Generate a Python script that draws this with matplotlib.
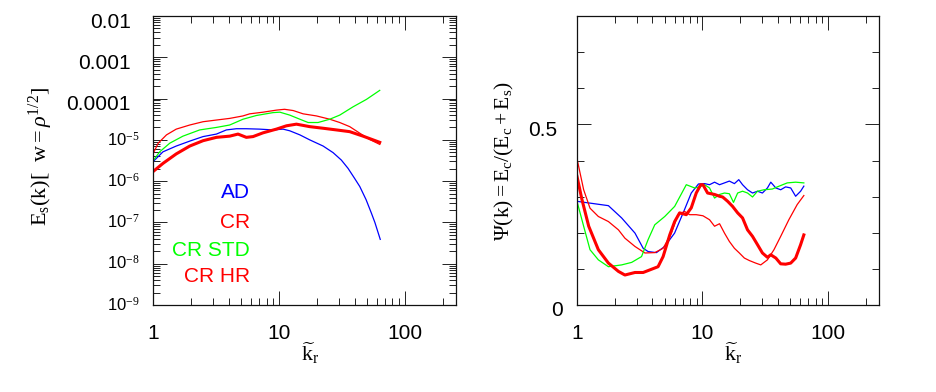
import numpy as np
import matplotlib
matplotlib.use("Agg")
import matplotlib.pyplot as plt
from matplotlib.ticker import LogLocator, FixedLocator, NullFormatter, FixedFormatter, MultipleLocator
from matplotlib.transforms import ScaledTranslation

plt.rcParams['font.family'] = ['Liberation Sans', 'DejaVu Sans']
plt.rcParams['mathtext.fontset'] = 'custom'
plt.rcParams['mathtext.rm'] = 'Liberation Serif'
plt.rcParams['mathtext.it'] = 'Liberation Serif:italic'
plt.rcParams['mathtext.bf'] = 'Liberation Serif:bold'
plt.rcParams['mathtext.sf'] = 'Liberation Sans'

# ---------------- data: left panel (E_s spectra) ----------------
k_ad = [1.0, 1.2, 1.53, 1.96, 2.5, 3.19, 3.83, 4.6, 5.5, 7.0, 9.0, 10.8, 12.2, 14.7,
        17.6, 22.5, 27.0, 31.4, 35.5, 40.0, 44.0, 49.4, 54.5, 58.0, 64.0]
es_ad = [2.95e-6, 5.13e-6, 7.08e-6, 9.33e-6, 1.20e-5, 1.38e-5, 1.74e-5, 1.86e-5, 1.86e-5,
         1.82e-5, 1.74e-5, 1.82e-5, 1.66e-5, 1.32e-5, 1.0e-5, 7.08e-6, 4.90e-6, 3.24e-6,
         2.04e-6, 1.17e-6, 7.41e-7, 3.55e-7, 1.66e-7, 1.0e-7, 3.89e-8]

k_cr = [1.0, 1.10, 1.28, 1.53, 1.96, 2.5, 3.19, 4.07, 5.19, 5.87, 7.49, 9.57, 11.1, 13.0,
        15.6, 19.9, 25.4, 30.5, 36.6, 44.0, 52.8, 63.4]
es_cr = [4.57e-6, 8.32e-6, 1.32e-5, 1.82e-5, 2.29e-5, 2.75e-5, 3.02e-5, 3.31e-5, 3.80e-5,
         4.27e-5, 4.68e-5, 5.25e-5, 5.50e-5, 5.13e-5, 4.27e-5, 3.80e-5, 3.16e-5, 2.63e-5,
         2.09e-5, 1.45e-5, 1.02e-5, 7.76e-6]

k_std = [1.0, 1.13, 1.36, 1.73, 2.35, 3.19, 4.07, 5.19, 6.63, 9.0, 10.2, 12.2, 14.7, 17.1,
         20.5, 25.4, 30.5, 38.9, 49.7, 63.4]
es_std = [3.09e-6, 5.13e-6, 8.32e-6, 1.23e-5, 1.74e-5, 2.0e-5, 2.29e-5, 3.16e-5, 3.89e-5,
          4.57e-5, 4.68e-5, 3.98e-5, 3.16e-5, 2.63e-5, 2.63e-5, 3.16e-5, 3.98e-5, 6.31e-5,
          9.55e-5, 1.58e-4]

k_hr = [1.0, 1.2, 1.53, 1.96, 2.5, 3.19, 4.07, 4.74, 5.52, 6.24, 7.49, 9.57, 11.5, 13.8,
        17.6, 22.5, 28.7, 36.6, 46.7, 63.4]
es_hr = [1.70e-6, 2.69e-6, 4.57e-6, 7.08e-6, 9.55e-6, 1.15e-5, 1.23e-5, 1.38e-5, 1.15e-5,
         1.20e-5, 1.48e-5, 1.82e-5, 2.19e-5, 2.40e-5, 2.09e-5, 1.91e-5, 1.74e-5, 1.58e-5,
         1.23e-5, 8.71e-6]

# ---------------- data: right panel (Psi) ----------------
kp_ad = [1.0, 1.78, 2.27, 2.9, 3.37, 3.69, 4.3, 5.0, 6.0, 7.2, 8.15, 9.3, 10.4, 11.4, 12.5,
         13.7, 15.0, 16.4, 18.0, 19.5, 20.9, 22.9, 25.1, 27.5, 30.1, 33.0, 35.1, 38.5, 42.1,
         46.1, 50.6, 55.4, 60.7, 64.4]
psi_ad = [0.287, 0.275, 0.241, 0.199, 0.157, 0.148, 0.145, 0.162, 0.199, 0.264, 0.310, 0.335,
          0.336, 0.333, 0.340, 0.333, 0.338, 0.343, 0.336, 0.347, 0.333, 0.319, 0.310, 0.315,
          0.310, 0.324, 0.340, 0.324, 0.319, 0.327, 0.324, 0.301, 0.315, 0.329]

kp_cr = [1.0, 1.13, 1.27, 1.48, 1.78, 2.14, 2.41, 2.9, 3.48, 4.17, 4.86, 5.66, 6.37, 7.21,
         7.91, 8.93, 10.1, 11.4, 12.5, 13.7, 15.0, 16.4, 18.0, 19.7, 21.6, 23.7, 26.6, 29.2,
         33.0, 37.2, 42.1, 48.9, 57.0, 64.4]
psi_cr = [0.405, 0.319, 0.268, 0.245, 0.231, 0.208, 0.185, 0.162, 0.144, 0.145, 0.157, 0.199,
          0.250, 0.259, 0.250, 0.250, 0.247, 0.236, 0.218, 0.225, 0.199, 0.176, 0.157, 0.144,
          0.130, 0.123, 0.116, 0.111, 0.125, 0.153, 0.190, 0.236, 0.278, 0.303]

kp_std = [1.0, 1.13, 1.27, 1.48, 1.78, 2.27, 2.73, 3.27, 3.69, 4.17, 5.01, 6.01, 7.44, 8.67,
          9.5, 10.4, 11.4, 12.5, 13.7, 15.0, 16.4, 17.7, 19.1, 20.9, 22.9, 25.1, 27.5, 31.0,
          36.1, 40.9, 47.5, 55.4, 64.4]
psi_std = [0.287, 0.218, 0.153, 0.125, 0.106, 0.111, 0.118, 0.134, 0.181, 0.222, 0.245, 0.273,
           0.333, 0.324, 0.327, 0.333, 0.324, 0.296, 0.306, 0.310, 0.308, 0.284, 0.310, 0.315,
           0.310, 0.299, 0.315, 0.319, 0.321, 0.329, 0.338, 0.340, 0.338]

kp_hr = [1.0, 1.095, 1.24, 1.48, 1.78, 2.14, 2.41, 2.9, 3.37, 3.93, 4.43, 4.86, 5.49, 6.01,
         6.58, 7.44, 8.15, 8.93, 9.7, 10.1, 11.0, 12.5, 13.7, 14.5, 15.9, 17.4, 19.1, 20.9,
         22.9, 25.1, 27.5, 30.1, 33.0, 35.1, 38.5, 42.1, 46.1, 50.6, 55.4, 60.7, 64.4]
psi_hr = [0.356, 0.292, 0.218, 0.153, 0.116, 0.093, 0.083, 0.090, 0.090, 0.099, 0.106, 0.134,
          0.194, 0.231, 0.255, 0.250, 0.269, 0.310, 0.333, 0.333, 0.310, 0.306, 0.301, 0.299,
          0.287, 0.273, 0.255, 0.241, 0.208, 0.190, 0.167, 0.144, 0.132, 0.139, 0.130, 0.114,
          0.113, 0.116, 0.130, 0.167, 0.194]

left_yticks = [1e-9, 1e-8, 1e-7, 1e-6, 1e-5, 1e-4, 1e-3, 1e-2]
left_ylabels = [r'10$^{-9}$', r'10$^{-8}$', r'10$^{-7}$', r'10$^{-6}$', r'10$^{-5}$',
                '0.0001', '0.001', '0.01']
xticks = [1, 10, 100]
xlabels = ['1', '10', '100']
right_yticks = [0.0, 0.5]
right_ylabels = ['0', '0.5']
legend_names = ['AD', 'CR', 'CR STD', 'CR HR']

BLUE, RED, GREEN = '#0000ff', '#ff0000', '#00ff00'
colors = [BLUE, RED, GREEN, RED]

fig = plt.figure(figsize=(9.37, 3.92), dpi=100)
W, H = 937, 392
axL = fig.add_axes([153 / W, (392 - 305) / H, 303 / W, 289 / H])
axR = fig.add_axes([577 / W, (392 - 305) / H, 302 / W, 289 / H])

thin, thick = 0.9, 2.2

# Left panel
axL.plot(k_ad, es_ad, color=BLUE, lw=thin)
axL.plot(k_cr, es_cr, color=RED, lw=thin)
axL.plot(k_std, es_std, color=GREEN, lw=thin)
axL.plot(k_hr, es_hr, color=RED, lw=thick)
axL.set_xscale('log')
axL.set_yscale('log')
axL.set_xlim(1, 256)
axL.set_ylim(1e-9, 1e-2)

# Right panel
axR.plot(kp_ad, psi_ad, color=BLUE, lw=thin)
axR.plot(kp_cr, psi_cr, color=RED, lw=thin)
axR.plot(kp_std, psi_std, color=GREEN, lw=thin)
axR.plot(kp_hr, psi_hr, color=RED, lw=thick)
axR.set_xscale('log')
axR.set_xlim(1, 256)
axR.set_ylim(0, 0.8)

for ax in (axL, axR):
    for s in ax.spines.values():
        s.set_linewidth(0.9)
        s.set_color('#111111')
    ax.tick_params(which='both', direction='in', top=True, right=True, width=0.7,
                   color='#222222')
    ax.tick_params(which='major', length=10)
    ax.tick_params(which='minor', length=5)
    ax.xaxis.set_major_locator(FixedLocator(xticks))
    ax.xaxis.set_major_formatter(FixedFormatter(xlabels))
    ax.xaxis.set_minor_locator(LogLocator(base=10, subs=np.arange(2, 10), numticks=100))
    ax.xaxis.set_minor_formatter(NullFormatter())
    ax.tick_params(axis='x', which='major', labelsize=15, pad=14)

axL.yaxis.set_major_locator(FixedLocator(left_yticks))
axL.yaxis.set_major_formatter(FixedFormatter(left_ylabels))
axL.yaxis.set_minor_locator(LogLocator(base=10, subs=np.arange(2, 10), numticks=100))
axL.yaxis.set_minor_formatter(NullFormatter())
axL.tick_params(axis='y', which='major', labelsize=15, pad=9.5)

axR.yaxis.set_major_locator(FixedLocator(right_yticks))
axR.yaxis.set_major_formatter(FixedFormatter(right_ylabels))
axR.yaxis.set_minor_locator(MultipleLocator(0.1))
axR.tick_params(axis='y', which='major', labelsize=15, pad=10)

# adjust tick label offsets
px = 1 / 100.0
for lbl in axL.get_yticklabels():
    t = lbl.get_text()
    if '$' in t:
        lbl.set_fontsize(12)
        lbl.set_transform(lbl.get_transform() + ScaledTranslation(0, 2 * px, fig.dpi_scale_trans))
    else:
        lbl.set_transform(lbl.get_transform() + ScaledTranslation(-9 * px, -4 * px, fig.dpi_scale_trans))
for lbl in axR.get_yticklabels():
    dx = -6 * px if lbl.get_text() == '0.5' else 0
    lbl.set_transform(lbl.get_transform() + ScaledTranslation(dx, -4 * px, fig.dpi_scale_trans))

# axis labels
axL.set_ylabel(r'$\mathrm{E_s(k)[\ \ w=}\rho^{1/2}\mathrm{]}$', fontsize=16, va='center')
axL.yaxis.set_label_coords((41 - 153) / 303, (305 - 156) / 289)
axR.set_ylabel(r'$\mathrm{\Psi(k)=E_c/(E_c+E_s)}$', fontsize=15.5, va='center')
axR.yaxis.set_label_coords((504 - 577) / 302, (305 - 161) / 289)
for ax, cx in ((axL, 310), (axR, 734)):
    ax.set_xlabel(r'$\widetilde{\mathrm{k}}_\mathrm{r}$', fontsize=16)
    x0 = 153 if ax is axL else 577
    ax.xaxis.set_label_coords((cx - x0) / 303, (305 - 340) / 289)

# legend texts
leg_y = [0.391, 0.284, 0.190, 0.097]
for name, c, yy in zip(legend_names, colors, leg_y):
    axL.text(0.32, yy, name, color=c, fontsize=15, ha='right', va='center',
             transform=axL.transAxes)

fig.savefig('out.png', dpi=100)
